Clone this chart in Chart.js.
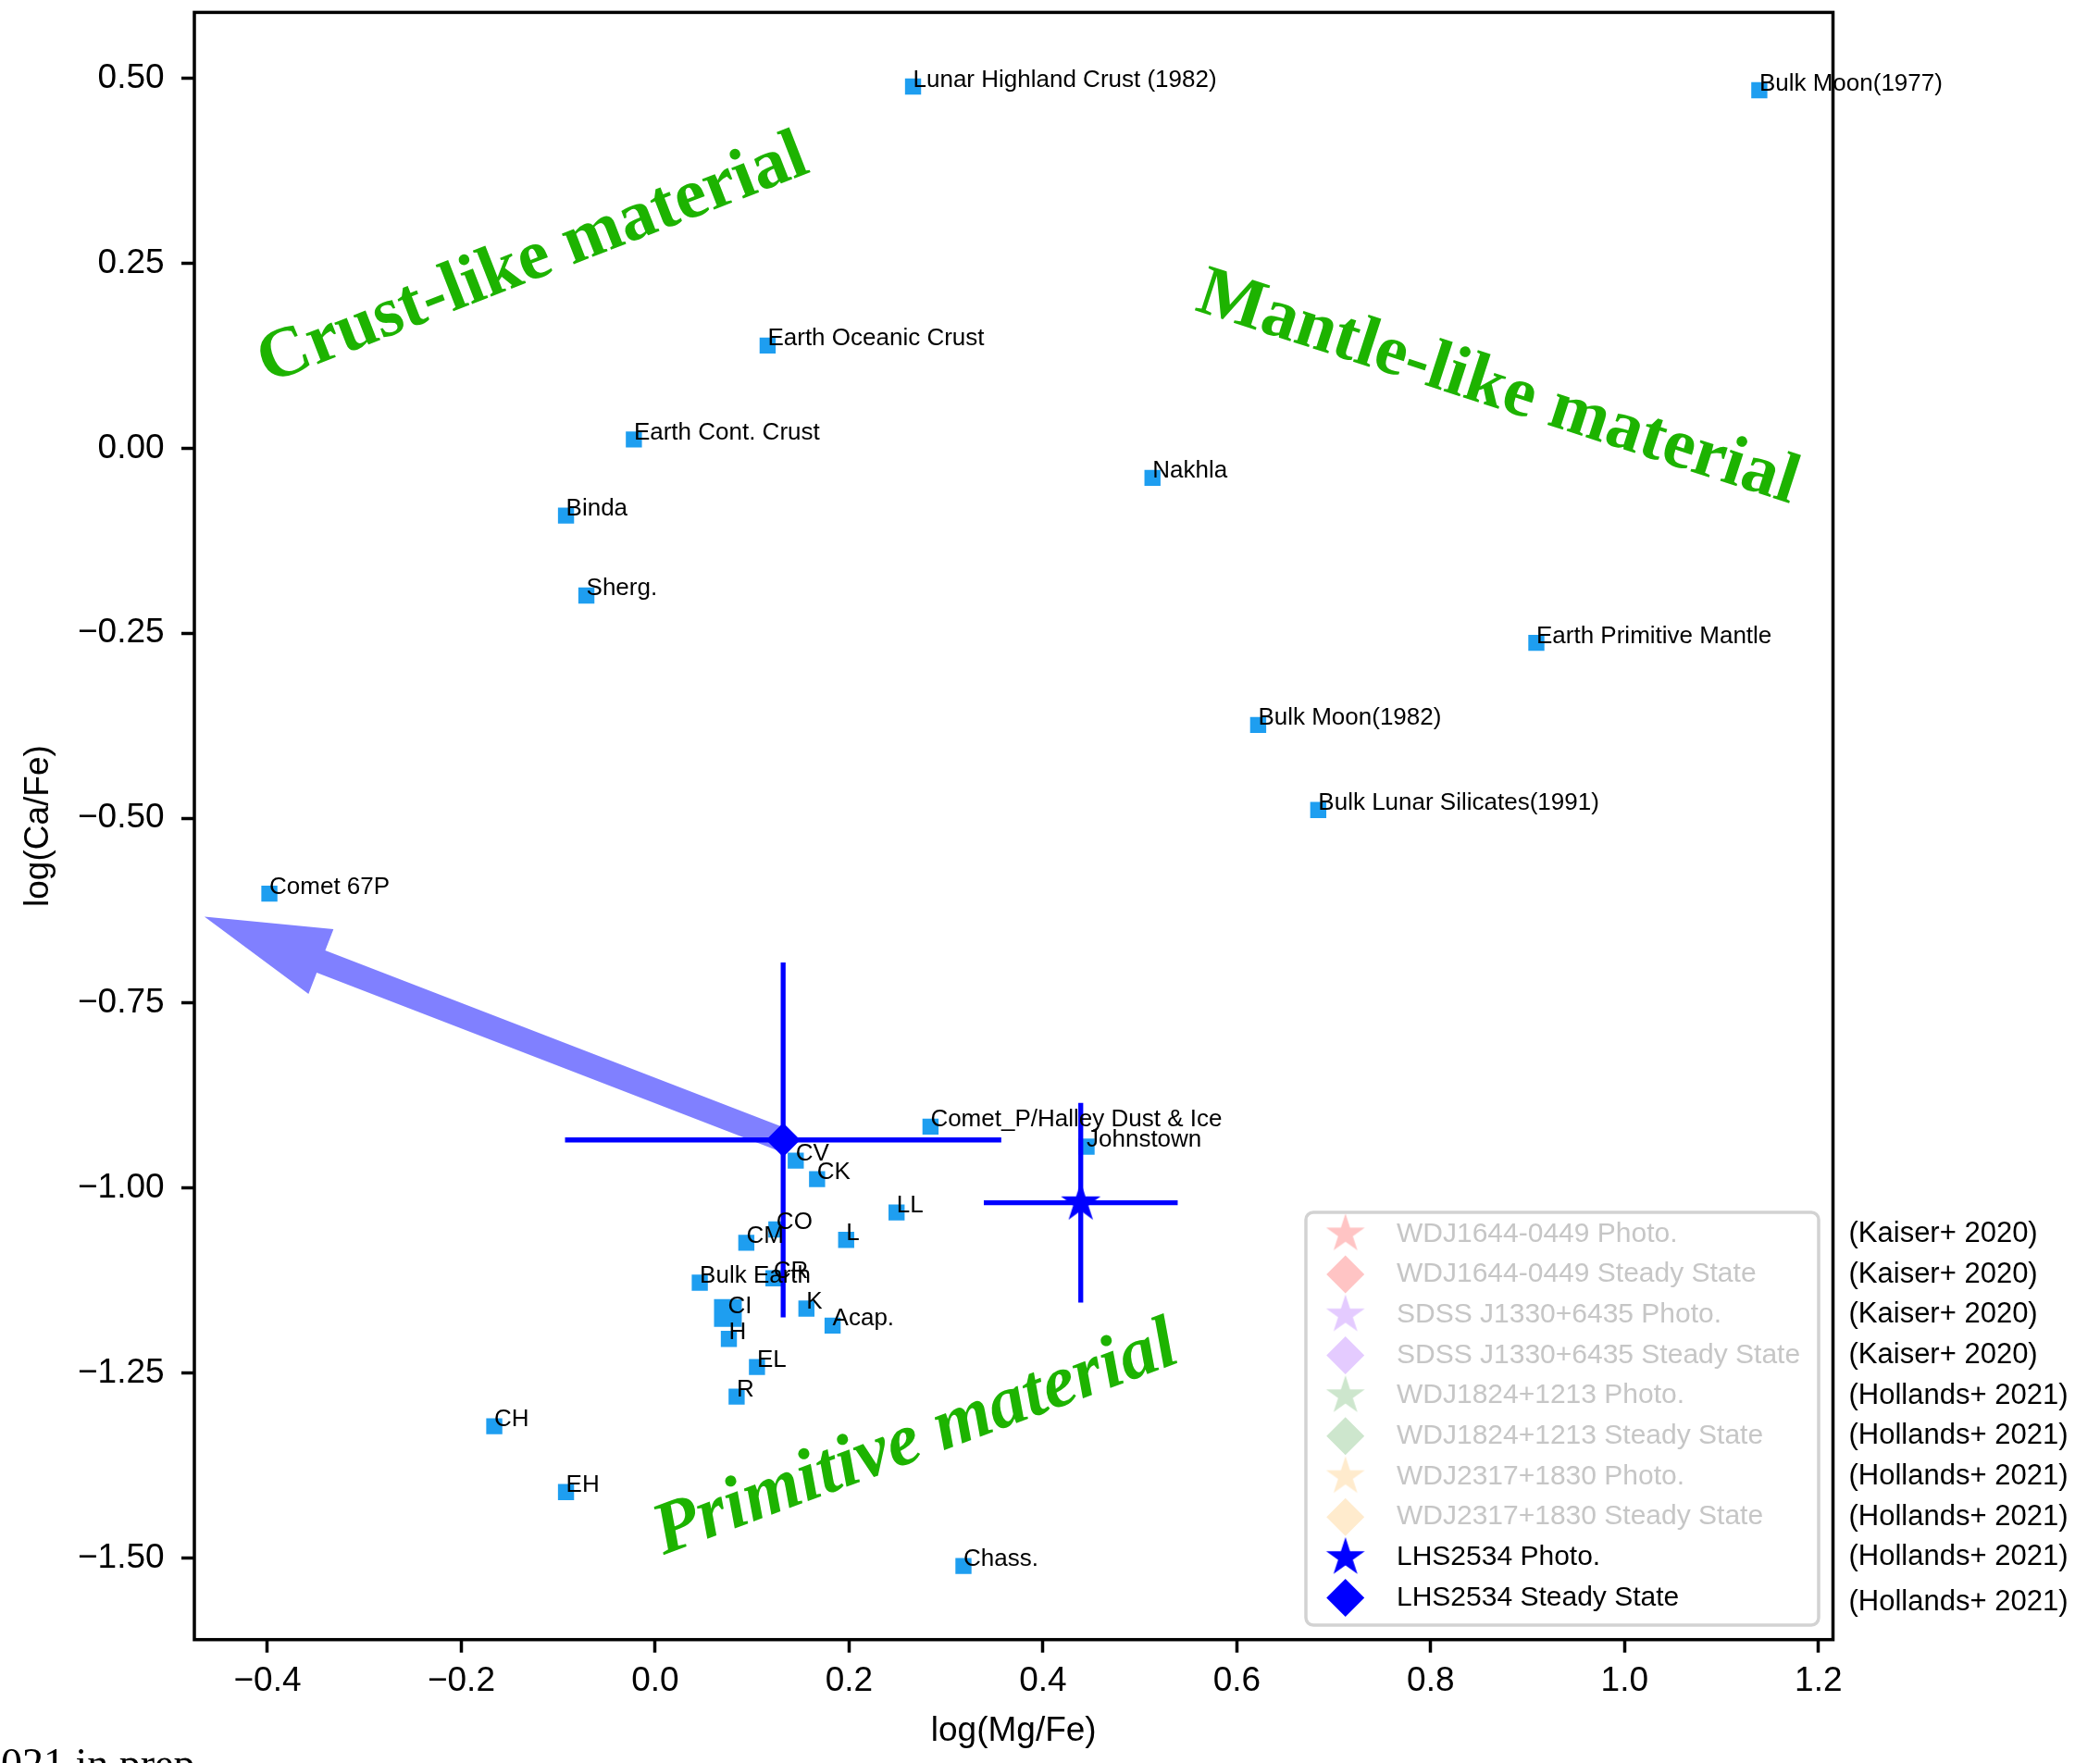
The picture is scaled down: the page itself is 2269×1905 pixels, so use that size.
<!DOCTYPE html>
<html>
<head>
<meta charset="utf-8">
<title>log(Ca/Fe) vs log(Mg/Fe)</title>
<style>
  html, body { margin: 0; padding: 0; background: #ffffff; }
  canvas { display: block; }
</style>
<script src="https://cdn.jsdelivr.net/npm/chart.js@4.4.0/dist/chart.umd.min.js"></script>
</head>
<body>
<canvas id="chart" width="2269" height="1905"></canvas>
<script>
// ---- Reference compositions (blue squares) ----
const sampleNames = [
  'Lunar Highland Crust (1982)', 'Bulk Moon(1977)', 'Earth Oceanic Crust', 'Earth Cont. Crust',
  'Nakhla', 'Binda', 'Sherg.', 'Earth Primitive Mantle', 'Bulk Moon(1982)',
  'Bulk Lunar Silicates(1991)', 'Comet 67P', 'Comet_P/Halley Dust & Ice', 'Johnstown',
  'CV', 'CK', 'LL', 'CO', 'L', 'CM', 'CR', 'Bulk Earth', 'K', 'CI', 'Acap.', 'H', 'EL', 'R',
  'CH', 'EH', 'Chass.'
];
const sampleMgFe = [
  0.266, 1.139, 0.116, -0.022,
  0.513, -0.092, -0.071, 0.909, 0.622,
  0.684, -0.398, 0.284, 0.445,
  0.145, 0.167, 0.249, 0.125, 0.197, 0.094, 0.122, 0.046, 0.156, 0.075, 0.183, 0.076, 0.105, 0.084,
  -0.166, -0.092, 0.318
];
const sampleCaFe = [
  0.489, 0.484, 0.139, 0.012,
  -0.040, -0.091, -0.199, -0.263, -0.374,
  -0.489, -0.602, -0.917, -0.944,
  -0.963, -0.988, -1.033, -1.056, -1.070, -1.074, -1.122, -1.128, -1.163, -1.169, -1.186, -1.204, -1.242, -1.282,
  -1.322, -1.411, -1.511
];

// ---- LHS2534 measurements with uncertainties ----
const lhsNames = ['LHS2534 Photo.', 'LHS2534 Steady State'];
const lhsMgFe = [0.439, 0.132];
const lhsCaFe = [-1.020, -0.935];
const lhsMgFeErr = [0.100, 0.225];
const lhsCaFeErr = [0.135, 0.240];

// ---- Legend entries and their references ----
const legendNames = [
  'WDJ1644-0449 Photo.', 'WDJ1644-0449 Steady State',
  'SDSS J1330+6435 Photo.', 'SDSS J1330+6435 Steady State',
  'WDJ1824+1213 Photo.', 'WDJ1824+1213 Steady State',
  'WDJ2317+1830 Photo.', 'WDJ2317+1830 Steady State',
  'LHS2534 Photo.', 'LHS2534 Steady State'
];
const legendRefs = [
  '(Kaiser+ 2020)', '(Kaiser+ 2020)', '(Kaiser+ 2020)', '(Kaiser+ 2020)',
  '(Hollands+ 2021)', '(Hollands+ 2021)', '(Hollands+ 2021)', '(Hollands+ 2021)',
  '(Hollands+ 2021)', '(Hollands+ 2021)'
];

// ---- Axis ticks ----
const xTickValues = [-0.4, -0.2, 0.0, 0.2, 0.4, 0.6, 0.8, 1.0, 1.2];
const xTickLabels = ['\u22120.4', '\u22120.2', '0.0', '0.2', '0.4', '0.6', '0.8', '1.0', '1.2'];
const yTickValues = [-1.5, -1.25, -1.0, -0.75, -0.5, -0.25, 0.0, 0.25, 0.5];
const yTickLabels = ['\u22121.50', '\u22121.25', '\u22121.00', '\u22120.75', '\u22120.50', '\u22120.25', '0.00', '0.25', '0.50'];

// ---- Arrow (data coordinates: tail, tip) ----
const arrowTail = [0.132, -0.935];
const arrowTip = [-0.465, -0.633];

// ---- Region annotations ----
const regionTexts = ['Crust-like material', 'Mantle-like material', 'Primitive material'];
const regionAt = [[-0.126, 0.254], [0.869, 0.080], [0.269, -1.341]];
const regionAngle = [-21.3, 18, -20.5];
const regionFont = ['bold 77px "Liberation Serif"', 'bold 77px "Liberation Serif"', 'italic bold 80px "Liberation Serif"'];

const SANS = '"Liberation Sans", Arial, Helvetica, sans-serif';
const BLUE = '#0000ff';
const SQUARE = '#1e9ef0';
const GREEN = '#1db300';
const FADED_TEXT = '#c6c6c6';

function makeStar(color, R) {
  const s = Math.ceil(2 * R + 4) + (Math.ceil(2 * R + 4) % 2);
  const c = document.createElement('canvas');
  c.width = s; c.height = s;
  const g = c.getContext('2d');
  const r = R * 0.381966;
  g.beginPath();
  for (let k = 0; k < 10; k++) {
    const rad = k % 2 === 0 ? R : r;
    const a = -Math.PI / 2 + k * Math.PI / 5;
    const px = s / 2 + rad * Math.cos(a), py = s / 2 + rad * Math.sin(a);
    if (k === 0) g.moveTo(px, py); else g.lineTo(px, py);
  }
  g.closePath();
  g.fillStyle = color;
  g.fill();
  return c;
}

const legendColors = ['#ffc4c4', '#ffc4c4', '#e4cbff', '#e4cbff', '#cde6cd', '#cde6cd', '#ffebcd', '#ffebcd', BLUE, BLUE];
const legendStars = legendColors.map(c => makeStar(c, 22));

// ---- datasets ----
const datasets = [];

// Photometric / steady-state markers
datasets.push({
  label: lhsNames[0],
  data: [{ x: lhsMgFe[0], y: lhsCaFe[0] }],
  pointStyle: makeStar(BLUE, 22.5),
  pointRadius: 10,
  backgroundColor: BLUE,
  borderWidth: 0,
  order: 1
});
datasets.push({
  label: lhsNames[1],
  data: [{ x: lhsMgFe[1], y: lhsCaFe[1] }],
  pointStyle: 'rectRot',
  pointRadius: 18.5,
  backgroundColor: BLUE,
  borderColor: BLUE,
  borderWidth: 0,
  order: 1
});

// Error bars for both LHS2534 estimates
lhsNames.forEach((n, i) => {
  datasets.push({
    label: n + ' x-err',
    data: [{ x: lhsMgFe[i] - lhsMgFeErr[i], y: lhsCaFe[i] }, { x: lhsMgFe[i] + lhsMgFeErr[i], y: lhsCaFe[i] }],
    showLine: true, pointRadius: 0, borderColor: BLUE, borderWidth: 5.3, borderCapStyle: 'butt', order: 2
  });
  datasets.push({
    label: n + ' y-err',
    data: [{ x: lhsMgFe[i], y: lhsCaFe[i] - lhsCaFeErr[i] }, { x: lhsMgFe[i], y: lhsCaFe[i] + lhsCaFeErr[i] }],
    showLine: true, pointRadius: 0, borderColor: BLUE, borderWidth: 5.3, borderCapStyle: 'butt', order: 2
  });
});

// Reference samples
const SAMPLE_INDEX = datasets.length;
datasets.push({
  label: 'samples',
  data: sampleNames.map((n, i) => ({ x: sampleMgFe[i], y: sampleCaFe[i] })),
  pointStyle: 'rect',
  pointRadius: ctx => (sampleNames[ctx.dataIndex] === 'CI' ? 21.2 : 12.3),
  backgroundColor: SQUARE,
  borderWidth: 0,
  order: 3
});

// ---- plugins ----
const framePlugin = {
  id: 'frameAndArrow',
  beforeDatasetsDraw(chart) {
    const { ctx, scales: { x, y } } = chart;
    ctx.save();
    // arrow
    const x0 = x.getPixelForValue(arrowTail[0]), y0 = y.getPixelForValue(arrowTail[1]);
    const x1 = x.getPixelForValue(arrowTip[0]), y1 = y.getPixelForValue(arrowTip[1]);
    const L = Math.hypot(x1 - x0, y1 - y0);
    const ux = (x1 - x0) / L, uy = (y1 - y0) / L;
    const nx = -uy, ny = ux;
    const hw = 12.8, HW = 37.5, HL = 135;
    const bx = x0 + ux * (L - HL), by = y0 + uy * (L - HL);
    ctx.beginPath();
    ctx.moveTo(x0 + nx * hw, y0 + ny * hw);
    ctx.lineTo(bx + nx * hw, by + ny * hw);
    ctx.lineTo(bx + nx * HW, by + ny * HW);
    ctx.lineTo(x1, y1);
    ctx.lineTo(bx - nx * HW, by - ny * HW);
    ctx.lineTo(bx - nx * hw, by - ny * hw);
    ctx.lineTo(x0 - nx * hw, y0 - ny * hw);
    ctx.closePath();
    ctx.fillStyle = '#8080ff';
    ctx.fill();
    ctx.restore();
  },
  afterDraw(chart) {
    const { ctx, chartArea: a } = chart;
    ctx.save();
    ctx.strokeStyle = '#000';
    ctx.lineWidth = 3.5;
    ctx.strokeRect(a.left, a.top, a.right - a.left, a.bottom - a.top);
    ctx.restore();
  }
};

const labelPlugin = {
  id: 'sampleLabels',
  afterDatasetsDraw(chart) {
    const { ctx, scales: { x, y } } = chart;
    const meta = chart.getDatasetMeta(SAMPLE_INDEX);
    ctx.save();
    ctx.font = '26px ' + SANS;
    ctx.fillStyle = '#000';
    ctx.textAlign = 'left';
    ctx.textBaseline = 'alphabetic';
    meta.data.forEach((pt, i) => ctx.fillText(sampleNames[i], pt.x, pt.y));

    // region annotations
    ctx.fillStyle = GREEN;
    ctx.textAlign = 'center';
    ctx.textBaseline = 'middle';
    regionTexts.forEach((t, i) => {
      ctx.save();
      ctx.translate(x.getPixelForValue(regionAt[i][0]), y.getPixelForValue(regionAt[i][1]));
      ctx.rotate(regionAngle[i] * Math.PI / 180);
      ctx.font = regionFont[i];
      ctx.fillText(t, 0, 0);
      ctx.restore();
    });
    ctx.restore();
  }
};

const legendPlugin = {
  id: 'markerLegend',
  afterDraw(chart) {
    const { ctx, chartArea: a } = chart;
    const right = a.right - 15.5, bottom = a.bottom - 15.7;
    const w = 554, h = 446;
    const left = right - w, top = bottom - h;
    ctx.save();
    ctx.beginPath();
    ctx.roundRect(left, top, w, h, 8);
    ctx.fillStyle = 'rgba(255,255,255,0.8)';
    ctx.fill();
    ctx.lineWidth = 3.5;
    ctx.strokeStyle = '#d2d2d2';
    ctx.stroke();

    const step = 43.7;
    legendNames.forEach((name, i) => {
      const cy = top + 23.3 + i * step;
      const mx = left + 42.7;
      if (i % 2 === 0) {
        const img = legendStars[i];
        ctx.drawImage(img, mx - img.width / 2, cy - img.height / 2);
      } else {
        ctx.beginPath();
        ctx.moveTo(mx, cy - 20.5);
        ctx.lineTo(mx + 20.5, cy);
        ctx.lineTo(mx, cy + 20.5);
        ctx.lineTo(mx - 20.5, cy);
        ctx.closePath();
        ctx.fillStyle = legendColors[i];
        ctx.fill();
      }
      ctx.font = '30px ' + SANS;
      ctx.textAlign = 'left';
      ctx.textBaseline = 'middle';
      ctx.fillStyle = legendColors[i] === BLUE ? '#000' : FADED_TEXT;
      ctx.fillText(name, left + 98, cy);

      ctx.font = '31px ' + SANS;
      ctx.fillStyle = '#000';
      ctx.fillText(legendRefs[i], a.right + 17, cy + (i === 9 ? 5 : 0));
    });

    // footnote at the lower-left edge
    ctx.font = '46px "Liberation Serif"';
    ctx.fillStyle = '#000';
    ctx.textBaseline = 'alphabetic';
    const w2 = ctx.measureText('2').width;
    ctx.fillText('2021 in prep.', 1 - w2, 1921);
    ctx.restore();
  }
};

// keep the plotting frame exactly where the layout padding puts it
function fixBox(size, horizontal) {
  return s => {
    if (horizontal) s.height = size; else s.width = size;
    s.paddingTop = 0; s.paddingBottom = 0; s.paddingLeft = 0; s.paddingRight = 0;
  };
}

Chart.defaults.font.family = SANS;
Chart.defaults.color = '#000';

new Chart(document.getElementById('chart'), {
  type: 'scatter',
  data: { datasets },
  options: {
    responsive: false,
    animation: false,
    events: [],
    layout: { autoPadding: false, padding: { left: 0, top: 13.4, right: 288.5, bottom: 0 } },
    plugins: { legend: { display: false }, tooltip: { enabled: false } },
    scales: {
      x: {
        type: 'linear',
        position: 'bottom',
        min: -0.4754,
        max: 1.215,
        afterBuildTicks: s => { s.ticks = xTickValues.map(v => ({ value: v })); },
        afterFit: fixBox(133.3, true),
        border: { display: false },
        grid: { drawOnChartArea: false, drawTicks: true, tickLength: 14, tickWidth: 3.5, tickColor: '#000' },
        ticks: {
          padding: 8.6, color: '#000', font: { family: SANS, size: 37 },
          maxRotation: 0, autoSkip: false,
          callback: (v, i) => xTickLabels[i]
        },
        title: {
          display: true, text: 'log(Mg/Fe)', color: '#000',
          font: { family: SANS, size: 37 }, padding: { top: 0, bottom: 11.8 }
        }
      },
      y: {
        type: 'linear',
        position: 'left',
        min: -1.6105,
        max: 0.5893,
        afterBuildTicks: s => { s.ticks = yTickValues.map(v => ({ value: v })); },
        afterFit: fixBox(210, false),
        border: { display: false },
        grid: { drawOnChartArea: false, drawTicks: true, tickLength: 14, tickWidth: 3.5, tickColor: '#000' },
        ticks: {
          padding: 18.4, color: '#000', font: { family: SANS, size: 37 },
          autoSkip: false,
          callback: (v, i) => yTickLabels[i]
        },
        title: {
          display: true, text: 'log(Ca/Fe)', color: '#000',
          font: { family: SANS, size: 37 }, padding: { top: 19.2, bottom: 0 }
        }
      }
    }
  },
  plugins: [framePlugin, labelPlugin, legendPlugin]
});
</script>
</body>
</html>
